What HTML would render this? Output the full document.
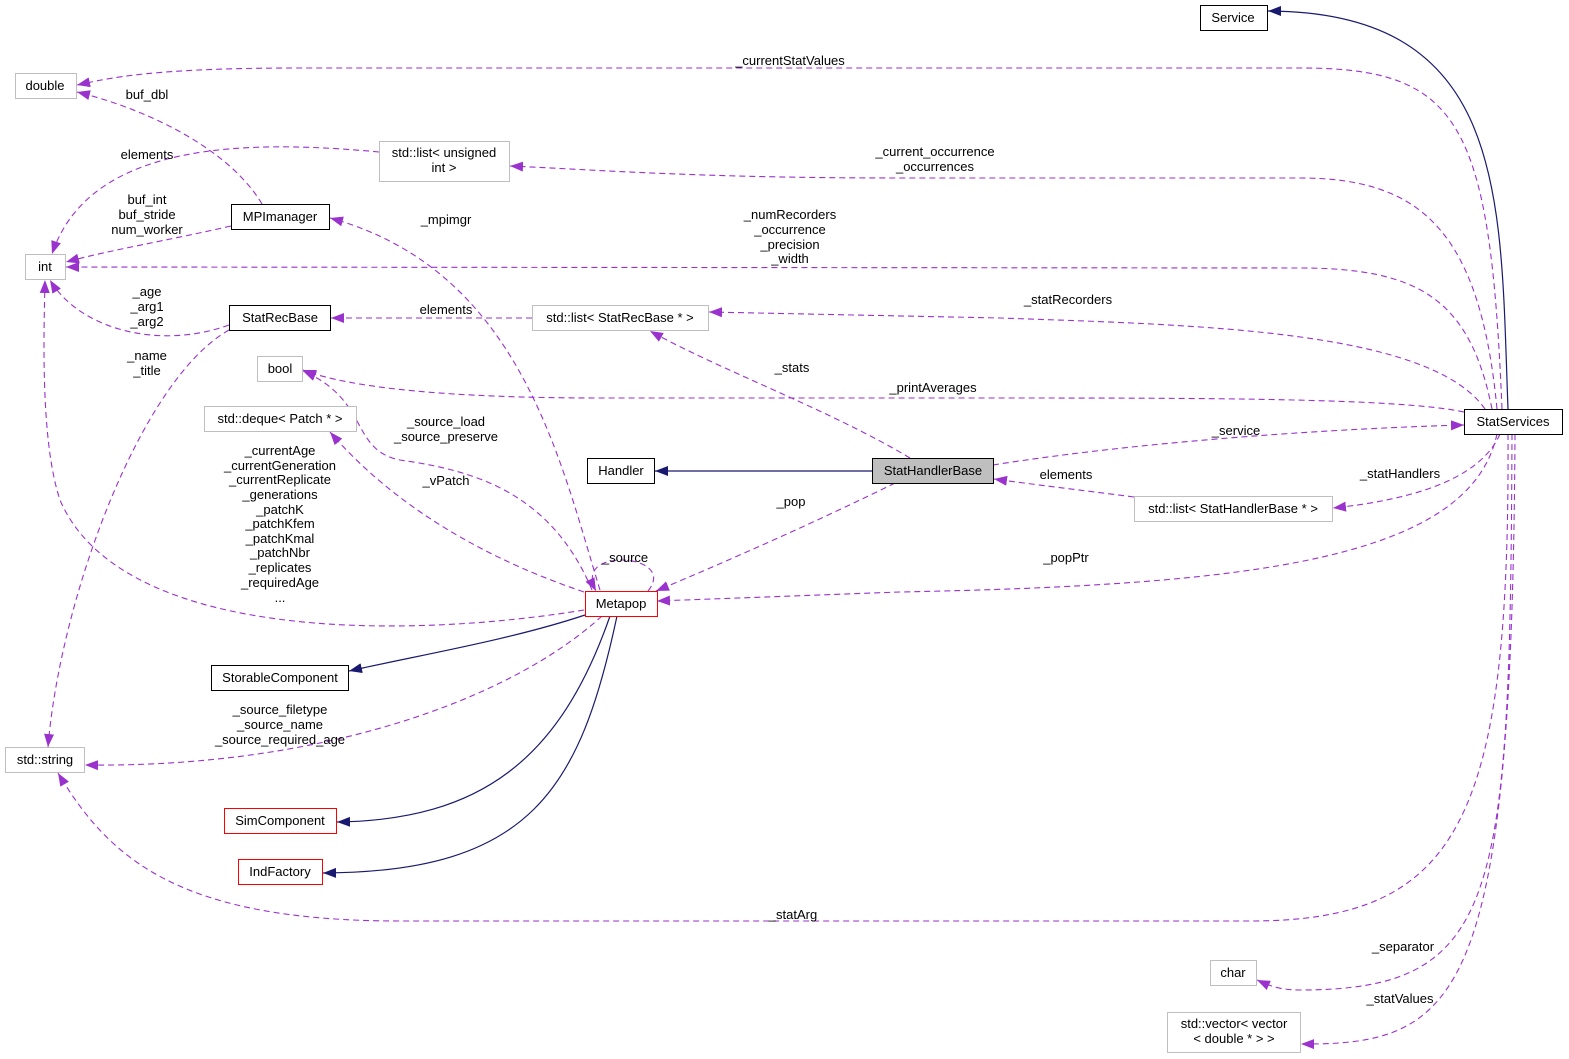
<!DOCTYPE html>
<html><head><meta charset="utf-8"><style>
body{margin:0;background:#fff}
svg{display:block}
text{font-family:"Liberation Sans",Arial,sans-serif;font-size:13px;fill:#000}
.p{fill:none;stroke:#9a32cd;stroke-dasharray:6,4;stroke-width:1.1}
.n{fill:none;stroke:#191970;stroke-width:1.2}
.b{fill:#fff;stroke:#000;stroke-width:1}
.g{fill:#fff;stroke:#bfbfbf;stroke-width:1}
.r{fill:#fff;stroke:#ff0000;stroke-width:1}
</style></head><body>
<svg width="1569" height="1059" viewBox="0 0 1569 1059" xmlns="http://www.w3.org/2000/svg">
<defs>
<marker id="ap" markerUnits="userSpaceOnUse" markerWidth="14" markerHeight="12" refX="13" refY="5" orient="auto"><path d="M0,0 L13,5 L0,10 z" fill="#9a32cd"/></marker>
<marker id="an" markerUnits="userSpaceOnUse" markerWidth="14" markerHeight="12" refX="13" refY="5" orient="auto"><path d="M0,0 L13,5 L0,10 z" fill="#191970"/></marker>
</defs>
<g text-anchor="middle">
<path class="n" marker-end="url(#an)" d="M1508,409 C1500,200 1510,12 1268,11"/>
<path class="p" marker-end="url(#ap)" d="M1502,409 C1490,120 1460,68 1300,68 L300,68 C150,68 110,78 77,85"/>
<text x="790" y="65">_currentStatValues</text>
<path class="p" marker-end="url(#ap)" d="M1497,409 C1480,230 1420,178 1300,178 L900,178 C700,178 600,170 510,166"/>
<text x="935" y="156">_current_occurrence</text><text x="935" y="171">_occurrences</text>
<path class="p" marker-end="url(#ap)" d="M1492,409 C1470,300 1420,268 1300,268 L66,267"/>
<text x="790" y="219">_numRecorders</text><text x="790" y="234">_occurrence</text><text x="790" y="249">_precision</text><text x="790" y="263">_width</text>
<path class="p" marker-end="url(#ap)" d="M1485,409 C1430,330 1200,325 1000,318 L709,312"/>
<text x="1068" y="304">_statRecorders</text>
<path class="p" marker-end="url(#ap)" d="M1464,412 C1400,398 1200,398 1000,398 L600,398 C450,398 350,388 303,370"/>
<text x="933" y="392">_printAverages</text>
<path class="p" marker-end="url(#ap)" d="M993,465 C1150,440 1350,428 1464,425"/>
<text x="1236" y="435">_service</text>
<path class="p" marker-end="url(#ap)" d="M1500,434 C1480,480 1410,500 1333,508"/>
<text x="1400" y="478">_statHandlers</text>
<path class="p" marker-end="url(#ap)" d="M1134,497 C1080,490 1030,484 994,479"/>
<text x="1066" y="479">elements</text>
<path class="p" marker-end="url(#ap)" d="M1497,434 C1470,560 1250,585 900,592 L657,601"/>
<text x="1066" y="562">_popPtr</text>
<path class="p" marker-end="url(#ap)" d="M1508,434 C1510,820 1460,921 1250,921 L400,921 C180,921 110,860 58,773"/>
<text x="793" y="919">_statArg</text>
<path class="p" marker-end="url(#ap)" d="M1512,434 C1510,900 1500,990 1300,990 C1280,990 1270,986 1257,980"/>
<text x="1403" y="951">_separator</text>
<path class="p" marker-end="url(#ap)" d="M1515,434 C1512,1000 1460,1045 1301,1044"/>
<text x="1400" y="1003">_statValues</text>
<path class="n" marker-end="url(#an)" d="M872,471 L655,471"/>
<path class="p" marker-end="url(#ap)" d="M910,458 C830,410 720,370 650,331"/>
<text x="792" y="372">_stats</text>
<path class="p" marker-end="url(#ap)" d="M895,483 C820,520 730,560 656,591"/>
<text x="791" y="506">_pop</text>
<path class="p" marker-end="url(#ap)" d="M532,318 L331,318"/>
<text x="446" y="314">elements</text>
<path class="p" marker-end="url(#ap)" d="M379,152 C250,140 90,140 52,254"/>
<text x="147" y="159">elements</text>
<path class="p" marker-end="url(#ap)" d="M231,226 C170,240 110,250 66,262"/>
<text x="147" y="204">buf_int</text><text x="147" y="219">buf_stride</text><text x="147" y="234">num_worker</text>
<path class="p" marker-end="url(#ap)" d="M262,204 C230,150 150,110 77,92"/>
<text x="147" y="99">buf_dbl</text>
<path class="p" marker-end="url(#ap)" d="M229,325 C160,350 80,330 50,280"/>
<text x="147" y="296">_age</text><text x="147" y="311">_arg1</text><text x="147" y="326">_arg2</text>
<path class="p" marker-end="url(#ap)" d="M229,330 C140,380 60,600 48,747"/>
<text x="147" y="360">_name</text><text x="147" y="375">_title</text>
<path class="p" marker-end="url(#ap)" d="M600,590 C560,460 520,270 330,218"/>
<text x="446" y="224">_mpimgr</text>
<path class="p" marker-end="url(#ap)" d="M592,590 C550,490 470,470 400,460 C350,450 370,400 303,371"/>
<text x="446" y="426">_source_load</text><text x="446" y="441">_source_preserve</text>
<path class="p" marker-end="url(#ap)" d="M584,592 C460,550 380,490 330,432"/>
<text x="446" y="485">_vPatch</text>
<path class="p" marker-end="url(#ap)" d="M584,610 C400,640 120,640 60,500 C40,440 44,330 45,280"/>
<text x="280" y="455">_currentAge</text><text x="280" y="470">_currentGeneration</text><text x="280" y="484">_currentReplicate</text><text x="280" y="499">_generations</text><text x="280" y="514">_patchK</text><text x="280" y="528">_patchKfem</text><text x="280" y="543">_patchKmal</text><text x="280" y="557">_patchNbr</text><text x="280" y="572">_replicates</text><text x="280" y="587">_requiredAge</text><text x="280" y="602">...</text>
<path class="p" marker-end="url(#ap)" d="M648,591 C665,570 640,560 622,560 C600,560 585,570 596,591"/>
<text x="625" y="562">_source</text>
<path class="n" marker-end="url(#an)" d="M585,615 C510,640 420,655 349,671"/>
<path class="p" marker-end="url(#ap)" d="M602,616 C510,700 320,768 85,765"/>
<text x="280" y="714">_source_filetype</text><text x="280" y="729">_source_name</text><text x="280" y="744">_source_required_age</text>
<path class="n" marker-end="url(#an)" d="M610,616 C560,760 480,820 337,822"/>
<path class="n" marker-end="url(#an)" d="M617,616 C580,790 530,872 323,873"/>
<rect class="b" x="1200.5" y="5.5" width="67" height="25"/><text x="1233" y="22">Service</text>
<rect class="g" x="15.5" y="73.5" width="61" height="25"/><text x="45" y="90">double</text>
<rect class="g" x="379.5" y="141.5" width="130" height="40"/><text x="444" y="157">std::list&lt; unsigned</text><text x="444" y="172">int &gt;</text>
<rect class="b" x="231.5" y="204.5" width="98" height="25"/><text x="280" y="221">MPImanager</text>
<rect class="g" x="25.5" y="254.5" width="40" height="25"/><text x="45" y="271">int</text>
<rect class="b" x="229.5" y="305.5" width="101" height="25"/><text x="280" y="322">StatRecBase</text>
<rect class="g" x="532.5" y="305.5" width="176" height="25"/><text x="620" y="322">std::list&lt; StatRecBase * &gt;</text>
<rect class="g" x="257.5" y="356.5" width="45" height="25"/><text x="280" y="373">bool</text>
<rect class="g" x="204.5" y="406.5" width="152" height="25"/><text x="280" y="423">std::deque&lt; Patch * &gt;</text>
<rect class="b" x="587.5" y="458.5" width="67" height="25"/><text x="621" y="475">Handler</text>
<rect x="872.5" y="458.5" width="121" height="25" fill="#bfbfbf" stroke="#000"/><text x="933" y="475">StatHandlerBase</text>
<rect class="b" x="1464.5" y="409.5" width="98" height="25"/><text x="1513" y="426">StatServices</text>
<rect class="g" x="1134.5" y="496.5" width="198" height="25"/><text x="1233" y="513">std::list&lt; StatHandlerBase * &gt;</text>
<rect class="r" x="585.5" y="591.5" width="72" height="25"/><text x="621" y="608">Metapop</text>
<rect class="b" x="211.5" y="665.5" width="137" height="25"/><text x="280" y="682">StorableComponent</text>
<rect class="g" x="5.5" y="747.5" width="79" height="25"/><text x="45" y="764">std::string</text>
<rect class="r" x="224.5" y="808.5" width="112" height="25"/><text x="280" y="825">SimComponent</text>
<rect class="r" x="238.5" y="859.5" width="84" height="25"/><text x="280" y="876">IndFactory</text>
<rect class="g" x="1210.5" y="960.5" width="46" height="25"/><text x="1233" y="977">char</text>
<rect class="g" x="1167.5" y="1012.5" width="133" height="40"/><text x="1234" y="1028">std::vector&lt; vector</text><text x="1234" y="1043">&lt; double * &gt; &gt;</text>
</g>
</svg>
</body></html>
